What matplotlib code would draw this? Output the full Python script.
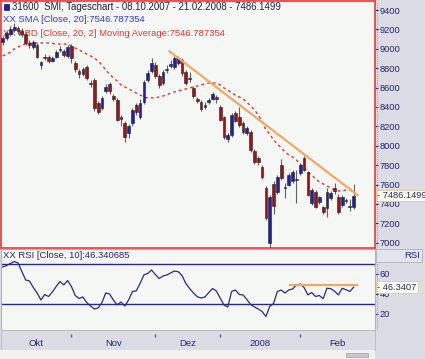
import matplotlib
matplotlib.use('Agg')
import matplotlib.pyplot as plt
import matplotlib.transforms as mtransforms
from matplotlib.patches import Rectangle
from matplotlib.lines import Line2D
import numpy as np

plt.rcParams['font.family'] = ['Liberation Sans', 'DejaVu Sans']

# ---------------- data ----------------
opens = [9070, 9110, 9150, 9195, 9210, 9180, 9150, 9060, 9020, 9040,
         8830, 8900, 8920, 8870, 8920, 8990, 8980, 8930, 9030, 8850,
         8770, 8740, 8810, 8650, 8680, 8440, 8390, 8560, 8640, 8510,
         8470, 8300, 8230, 8130, 8230, 8420, 8300, 8450, 8680, 8770,
         8830, 8720, 8650, 8780, 8820, 8810, 8850, 8880, 8760, 8690,
         8600, 8480, 8450, 8400, 8450, 8485, 8500, 8400, 8300, 8070,
         8110, 8340, 8300, 8230, 8130, 8140, 7950, 7870, 7780, 7565,
         7000, 7610, 7523, 7802, 7560, 7596, 7640, 7650, 7720, 7875,
         7730, 7410, 7523, 7420, 7370, 7358, 7462, 7560, 7472, 7390,
         7430, 7370, 7370]
highs = [9130, 9180, 9230, 9270, 9240, 9210, 9170, 9090, 9090, 9060,
         8870, 8950, 8940, 8930, 8990, 9030, 9000, 9040, 9050, 8870,
         8790, 8810, 8830, 8680, 8700, 8460, 8510, 8640, 8660, 8530,
         8490, 8320, 8250, 8220, 8390, 8440, 8480, 8680, 8780, 8900,
         8860, 8740, 8780, 8830, 8880, 8930, 8930, 8900, 8780, 8760,
         8620, 8500, 8470, 8450, 8490, 8550, 8520, 8420, 8310, 8130,
         8340, 8360, 8400, 8250, 8200, 8160, 7970, 7890, 7800, 7580,
         7490, 7640, 7700, 7860, 7616, 7720, 7750, 7750, 7820, 7890,
         7740, 7560, 7540, 7480, 7380, 7560, 7530, 7620, 7500, 7490,
         7460, 7450, 7610]
lows = [9040, 9090, 9130, 9170, 9150, 9120, 9040, 9010, 9000, 8900,
        8790, 8880, 8850, 8860, 8900, 8970, 8920, 8910, 8850, 8760,
        8700, 8720, 8680, 8610, 8360, 8330, 8370, 8540, 8530, 8460,
        8250, 8200, 8040, 8080, 8200, 8320, 8280, 8430, 8660, 8750,
        8700, 8600, 8630, 8750, 8800, 8790, 8830, 8720, 8630, 8660,
        8490, 8440, 8360, 8380, 8430, 8470, 8440, 8250, 8070, 8040,
        8090, 8240, 8190, 8120, 8110, 7940, 7810, 7800, 7660, 7230,
        6946, 7300, 7500, 7650, 7462, 7580, 7620, 7410, 7700, 7740,
        7480, 7390, 7360, 7400, 7300, 7266, 7440, 7500, 7300, 7370,
        7410, 7330, 7350]
closes = [9110, 9160, 9200, 9225, 9180, 9150, 9060, 9040, 9070, 8920,
          8860, 8920, 8870, 8910, 8970, 9000, 8940, 9020, 8900, 8790,
          8740, 8790, 8700, 8640, 8390, 8350, 8490, 8610, 8560, 8480,
          8270, 8280, 8090, 8200, 8370, 8350, 8440, 8660, 8750, 8850,
          8720, 8630, 8760, 8790, 8840, 8900, 8910, 8750, 8650, 8690,
          8510, 8460, 8380, 8420, 8470, 8530, 8484, 8270, 8090, 8110,
          8320, 8260, 8210, 8140, 8180, 7960, 7830, 7830, 7680, 7255,
          7472, 7380, 7678, 7668, 7575, 7700, 7730, 7645, 7802, 7750,
          7493, 7544, 7370, 7470, 7318, 7523, 7513, 7530, 7318, 7472,
          7445, 7375, 7486.15]
sma20 = [8926, 8946, 8967, 8998, 9019, 9039, 9049, 9055, 9060, 9060,
         9060, 9060, 9060, 9055, 9049, 9049, 9049, 9049, 9029, 9008,
         8988, 8967, 8946, 8926, 8905, 8874, 8833, 8781, 8740, 8699,
         8668, 8627, 8606, 8586, 8565, 8544, 8524, 8503, 8493, 8493,
         8493, 8503, 8513, 8524, 8544, 8555, 8565, 8575, 8586, 8596,
         8606, 8616, 8627, 8637, 8647, 8647, 8647, 8627, 8596, 8575,
         8544, 8524, 8503, 8482, 8451, 8410, 8369, 8317, 8245, 8163,
         8122, 8060, 8018, 7977, 7936, 7905, 7884, 7853, 7812, 7771,
         7730, 7699, 7658, 7627, 7606, 7585, 7565, 7544, 7534, 7534,
         7544, 7544, 7546.79]
rsi10 = [66.5, 68, 70, 72, 70.5, 62, 53.5, 52.5, 46, 40.5,
         33.5, 39, 37, 41.5, 47, 52, 48.6, 53, 47, 38,
         35, 36.5, 31, 27.5, 24.5, 25.5, 31, 40.5, 39.5, 33.5,
         28.6, 31.5, 27.5, 33.6, 42, 42.6, 50, 58.6, 60, 63.5,
         59, 55, 57.5, 58.5, 60.5, 62.5, 61.8, 58, 50, 45,
         40.5, 36.8, 35.5, 36.5, 41, 45, 42.5, 35.5, 28.5, 26.5,
         42, 43.5, 39, 38.6, 34, 29, 26.5, 24.5, 22, 17,
         27, 30, 42, 43.5, 40.5, 43.6, 44.5, 48.5, 49.5, 46,
         38.6, 41, 37, 38, 34.8, 45.3, 44.8, 42.3, 38.6, 45.2,
         43.8, 42, 46.34]

month_labels = ['Okt', 'Nov', 'Dez', '2008', 'Feb']
month_starts = [18, 40, 57, 78]           # bar index of first trading day
price_ticks = [7000, 7200, 7400, 7600, 7800, 8000, 8200, 8400, 8600,
               8800, 9000, 9200, 9400]
rsi_ticks = [20, 40, 60]
rsi_levels = [30, 70]
trend_x = [43.5, 93.3]
trend_price = [8980, 7482]
rsi_trend_x = [75.3, 92.9]
rsi_trend_val = [49, 49]
last_close = 7486.1499
last_sma = 7546.787354
last_rsi = 46.340685

# ---------------- layout ----------------
W, H = 425, 359
fig = plt.figure(figsize=(W / 100, H / 100), dpi=100, facecolor='#dcdce4')

def fx(px):
    return px / W

def fy(py):
    return 1 - py / H

navy = '#25256e'
panel_bg = '#f4f7f4'
xmin, xmax = -0.6, 97.6
n = len(closes)
x = np.arange(n)

# bottom strip (scroll area)
fig.patches.append(Rectangle((0, 0), fx(375), 9 / H, transform=fig.transFigure,
                             facecolor='#f2f2f2', edgecolor='none', zorder=0))
fig.patches.append(Rectangle((fx(346), fy(357)), 22 / W, 4 / H, transform=fig.transFigure,
                             facecolor='#c8c8cc', edgecolor='#a0a0a8', lw=0.5, zorder=1))

# ---------------- main price panel ----------------
ax1 = fig.add_axes([fx(0.5), fy(248), (375 - 0.5) / W, (248 - 0.5) / H], facecolor=panel_bg)
ax1.set_xlim(xmin, xmax)
ax1.set_ylim(6945, 9498)
for s in ax1.spines.values():
    s.set_color('#e84848')
    s.set_linewidth(1.3)

o = np.array(opens, float)
c = np.array(closes, float)
h = np.array(highs, float)
l = np.array(lows, float)
up = c >= o
ax1.vlines(x, l, h, color='#606060', lw=0.8, zorder=3)
body_bottom = np.minimum(o, c)
body_h = np.maximum(np.abs(c - o), 10)
cols = np.where(up, '#2020a8', '#a01414')
ax1.bar(x, body_h, bottom=body_bottom, width=0.72, color=cols,
        edgecolor='#202020', linewidth=0.4, zorder=4)

ax1.plot(x, sma20, color='#ee3030', lw=1.0, dashes=(2, 2.2), zorder=2)
ax1.plot(trend_x, trend_price, color='#f2a865', lw=1.6, zorder=5, solid_capstyle='butt')

ax1.yaxis.tick_right()
ax1.set_yticks(price_ticks)
ax1.set_yticklabels([str(t) for t in price_ticks])
ax1.tick_params(axis='y', direction='out', length=2.2, width=0.8, pad=1.2,
                colors=navy, labelsize=6.7)
ax1.set_xticks([])

# header texts
ax1.add_patch(Rectangle((fx(3.5), fy(10)), 5 / W, 6 / H, transform=fig.transFigure,
                        facecolor='#2020a0', edgecolor='#101050', lw=0.5, zorder=6, clip_on=False))
fig.text(fx(12), fy(6.5), '31600  SMI, Tageschart - 08.10.2007 - 21.02.2008 - %.4f' % last_close,
         color='#202040', fontsize=6.9, va='center', ha='left')
ax1.text(fx(3), fy(20), 'XX SMA [Close, 20]:%.6f' % last_sma, transform=fig.transFigure,
         color='#3535f0', fontsize=6.8, va='center', ha='left', zorder=1)
ax1.text(fx(3), fy(33), 'XX BBD [Close, 20, 2] Moving Average:%.6f' % last_sma,
         transform=fig.transFigure, color='#f03535', fontsize=6.8, va='center', ha='left', zorder=1)

# last-value box
trans1 = mtransforms.blended_transform_factory(fig.transFigure, ax1.transData)
ax1.text(fx(377), last_close, '- %.4f' % last_close, transform=trans1, color=navy,
         fontsize=6.7, va='center', ha='left', clip_on=False, zorder=10,
         bbox=dict(boxstyle='square,pad=0.15', facecolor='#fffff2', edgecolor='#e0c890', lw=0.6))

# dotted axis lines
fig.add_artist(Line2D([fx(377), fx(377)], [fy(247), fy(1)], color='#8080a0', lw=0.6,
                      linestyle=(0, (1, 1.5))))

# ---------------- RSI panel ----------------
ax2 = fig.add_axes([fx(0.5), fy(329.5), (375 - 0.5) / W, 80.5 / H], facecolor=panel_bg)
ax2.set_xlim(xmin, xmax)
ax2.set_ylim(4.0, 84.5)
for s in ax2.spines.values():
    s.set_color('#b0b0b8')
    s.set_linewidth(0.8)
for lev in rsi_levels:
    ax2.axhline(lev, color='#2a2a78', lw=1.0, zorder=2)
ax2.plot(x, rsi10, color='#2a2a80', lw=0.9, zorder=3)
ax2.plot(rsi_trend_x, rsi_trend_val, color='#f2a865', lw=1.6, zorder=4)
ax2.yaxis.tick_right()
ax2.set_yticks(rsi_ticks)
ax2.set_yticklabels([str(t) for t in rsi_ticks])
ax2.tick_params(axis='y', direction='out', length=2.2, width=0.8, pad=1.2,
                colors=navy, labelsize=6.7)
ax2.set_xticks([])
ax2.text(fx(3), fy(256), 'XX RSI [Close, 10]:%.6f' % last_rsi, transform=fig.transFigure,
         color=navy, fontsize=6.8, va='center', ha='left', zorder=6)
trans2 = mtransforms.blended_transform_factory(fig.transFigure, ax2.transData)
ax2.text(fx(377), last_rsi, '- %.4f' % last_rsi, transform=trans2, color=navy,
         fontsize=6.7, va='center', ha='left', clip_on=False, zorder=10,
         bbox=dict(boxstyle='square,pad=0.15', facecolor='#fffff2', edgecolor='#e0c890', lw=0.6))
fig.add_artist(Line2D([fx(377), fx(377)], [fy(329), fy(263)], color='#8080a0', lw=0.6,
                      linestyle=(0, (1, 1.5))))
# RSI header cell
fig.patches.append(Rectangle((fx(376), fy(262)), 46 / W, 13 / H, transform=fig.transFigure,
                             facecolor='#e4e4ec', edgecolor='#b0b0b8', lw=0.6, zorder=1))
fig.text(fx(420), fy(255.5), 'RSI', color=navy, fontsize=6.8, va='center', ha='right')

# ---------------- date band ----------------
ax3 = fig.add_axes([fx(0.5), fy(350), (375 - 0.5) / W, 20.5 / H], facecolor='#dcdce4')
ax3.set_xlim(xmin, xmax)
ax3.set_ylim(0, 1)
for s in ax3.spines.values():
    s.set_color('#b8b8c0')
    s.set_linewidth(0.6)
ax3.set_xticks([])
ax3.set_yticks([])
ax3.vlines(month_starts, 0.62, 0.8, color='#5a5a80', lw=1.0)
bounds = [xmin] + month_starts + [xmax]
for lab, a, b in zip(month_labels, bounds[:-1], bounds[1:]):
    ax3.text((a + b) / 2, 0.3, lab, color=navy, fontsize=6.8, ha='center', va='center')

fig.savefig('out.png', dpi=100, facecolor=fig.get_facecolor())
